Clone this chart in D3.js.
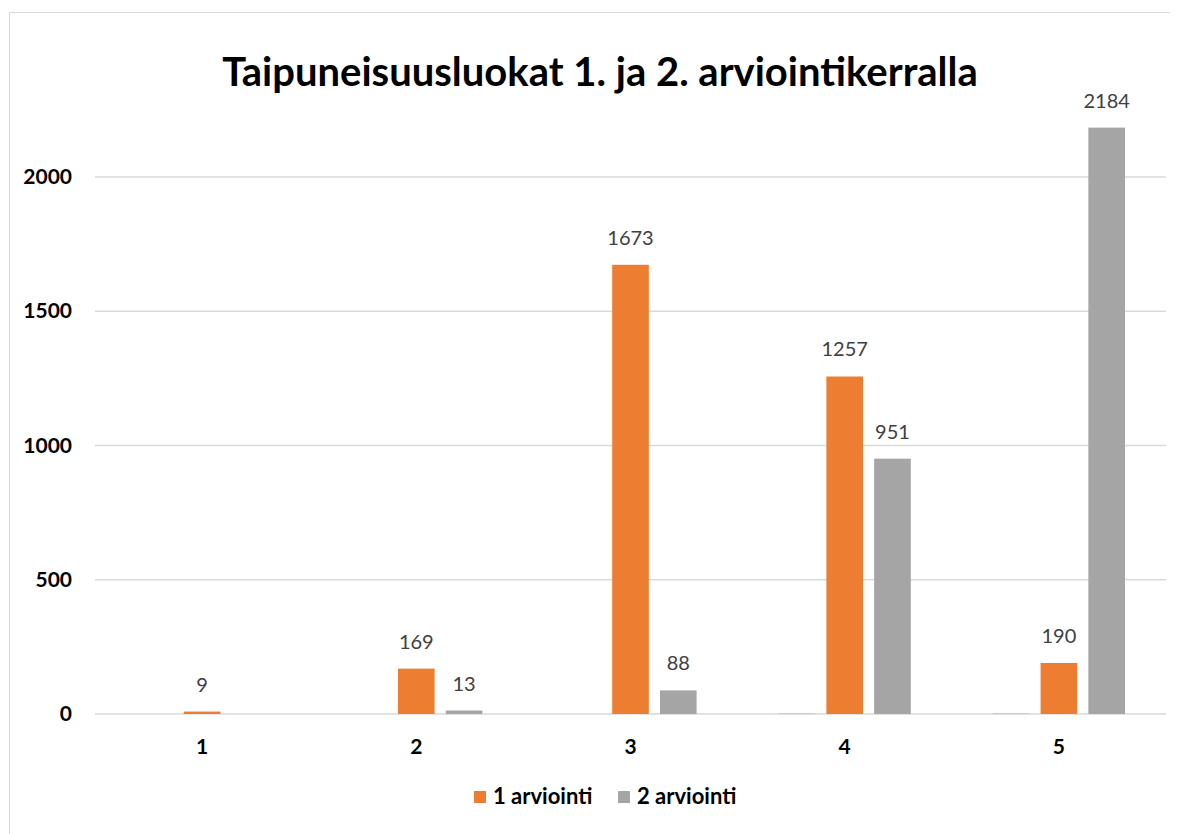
<!DOCTYPE html>
<html>
<head>
<meta charset="utf-8">
<script src="https://cdn.jsdelivr.net/npm/d3@7"></script>
<style>
  body { margin: 0; background: #fff; }
  text { font-family: "Lato", "Open Sans", sans-serif; }
</style>
</head>
<body>
<script>
const categories = ["1", "2", "3", "4", "5"];
const seriesNames = ["", "1 arviointi", "2 arviointi"];
const series0 = [0, 0, 0, 3, 3];
const series1 = [9, 169, 1673, 1257, 190];
const series2 = [0, 13, 88, 951, 2184];
const yTicks = [0, 500, 1000, 1500, 2000];

const colors = ["#B4C7E7", "#ED7D31", "#A5A5A5"];
const allSeries = [series0, series1, series2];

const width = 1180, height = 834;
const svg = d3.select("body").append("svg")
    .attr("width", width)
    .attr("height", height);

// chart border (only top and left edges are visible in the frame)
svg.append("path")
    .attr("d", "M9.5,834 V12.5 H1170")
    .attr("fill", "none")
    .attr("stroke", "#d9d9d9");

svg.append("text")
    .attr("x", 600).attr("y", 86)
    .attr("text-anchor", "middle")
    .style("font-size", "40px").style("font-weight", "bold").style("fill", "#000")
    .text("Taipuneisuusluokat 1. ja 2. arviointikerralla");

const plotLeft = 95, plotRight = 1166;
const y = d3.scaleLinear().domain([0, 2500]).range([714, 714 - 2500 * 0.2685]);
const x0 = d3.scaleBand().domain(categories).range([plotLeft, plotRight]);
const x1 = d3.scaleBand().domain([0, 1, 2]).range([41, x0.bandwidth() - 41]).paddingInner(0.233);

// gridlines
svg.append("g").selectAll("line")
    .data(yTicks)
    .enter().append("line")
    .attr("x1", plotLeft).attr("x2", plotRight)
    .attr("y1", d => y(d)).attr("y2", d => y(d))
    .attr("stroke", "#d9d9d9").attr("stroke-width", 1.3);

// y axis labels
const yAxis = d3.axisLeft(y).tickValues(yTicks).tickFormat(d3.format("d")).tickSize(0).tickPadding(0);
const yg = svg.append("g").attr("transform", "translate(72,0)").call(yAxis);
yg.select(".domain").remove();
yg.selectAll("text")
    .style("font-size", "21px").style("font-weight", "bold").style("fill", "#000")
    .style("font-family", "Lato, 'Open Sans', sans-serif");

// x axis labels
const xAxis = d3.axisBottom(x0).tickSize(0).tickPadding(0);
const xg = svg.append("g").attr("transform", "translate(0,739)").call(xAxis);
xg.select(".domain").remove();
xg.selectAll("text")
    .style("font-size", "21px").style("font-weight", "bold").style("fill", "#000")
    .style("font-family", "Lato, 'Open Sans', sans-serif");

// bars
const groups = svg.append("g").selectAll("g")
    .data(categories)
    .enter().append("g")
    .attr("transform", d => `translate(${x0(d)},0)`);

groups.selectAll("rect")
    .data((d, i) => allSeries.map((s, k) => ({ k: k, v: s[i] })))
    .enter().append("rect")
    .attr("x", d => x1(d.k))
    .attr("width", x1.bandwidth())
    .attr("y", d => y(d.v))
    .attr("height", d => y(0) - y(d.v))
    .attr("fill", d => colors[d.k]);

groups.selectAll("text")
    .data((d, i) => allSeries.map((s, k) => ({ k: k, v: s[i] })).filter(d => d.k > 0 && d.v > 0))
    .enter().append("text")
    .attr("x", d => x1(d.k) + x1.bandwidth() / 2)
    .attr("y", d => y(d.v) - 20)
    .attr("text-anchor", "middle")
    .style("font-size", "20px").style("fill", "#404040")
    .text(d => d.v);

// legend
const legend = [
    { name: seriesNames[1], color: colors[1], x: 474 },
    { name: seriesNames[2], color: colors[2], x: 618 }
];
const lg = svg.append("g").selectAll("g")
    .data(legend)
    .enter().append("g")
    .attr("transform", d => `translate(${d.x},791)`);
lg.append("rect")
    .attr("width", 12).attr("height", 12)
    .attr("fill", d => d.color);
lg.append("text")
    .attr("x", 19).attr("y", 13)
    .style("font-size", "22px").style("font-weight", "bold").style("fill", "#000")
    .text(d => d.name);
</script>
</body>
</html>
